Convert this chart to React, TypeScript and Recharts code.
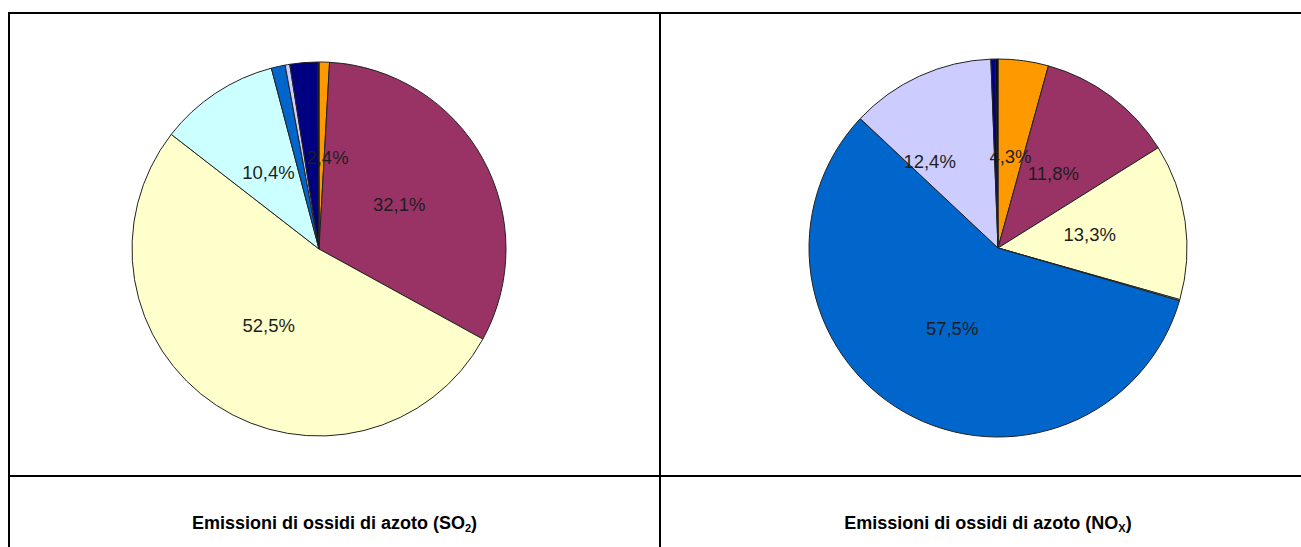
import { PieChart, Pie, Cell } from "recharts";

// Sectors, in clockwise order starting at 12 o'clock
const categories = ["s1", "s2", "s3", "s4", "s5", "s6", "s7", "s8"];
const sliceColors = ["#FF9900", "#993366", "#FFFFCC", "#CCFFFF", "#0066CC", "#CCCCFF", "#000080", "#000000"];

const so2Values = [0.9, 32.1, 52.5, 10.4, 1.2, 0.4, 2.4, 0.1];
const noxValues = [4.3, 11.8, 13.3, 0.1, 57.5, 12.4, 0.4, 0.2];

// which slices get a percentage label
const so2Labelled = [false, true, true, true, false, false, true, false];
const noxLabelled = [true, true, true, false, true, true, false, false];

const so2Caption = ["Emissioni di ossidi di azoto (SO", "2", ")"];
const noxCaption = ["Emissioni di ossidi di azoto (NO", "X", ")"];

// labels moved off their mid-angle to avoid overlaps
const so2Nudge: Record<number, [number, number]> = { 6: [16, 0] };
const noxNudge: Record<number, [number, number]> = { 5: [-30, -2] };

const RADIAN = Math.PI / 180;
const FONT = "'Liberation Sans', Arial, sans-serif";

const formatPct = (v: number) => v.toFixed(1).replace(".", ",") + "%";

function EmissionPie({ values, labelled, nudge, left, top, radius }: any) {
  const size = 400;
  const data = categories.map((name, i) => ({ name, value: values[i] }));

  const renderLabel = (props: any) => {
    const { cx, cy, midAngle, outerRadius, index, value } = props;
    if (!labelled[index]) return null;
    const r = outerRadius * 0.49;
    const [dx, dy] = nudge[index] || [0, 0];
    const x = cx + r * Math.cos(-midAngle * RADIAN) + dx;
    const y = cy + r * Math.sin(-midAngle * RADIAN) + dy;
    return (
      <text x={x} y={y} textAnchor="middle" dominantBaseline="central" fontSize={18.5} fontFamily={FONT} fill="#1e1e1e">
        {formatPct(value)}
      </text>
    );
  };

  return (
    <div style={{ position: "absolute", left, top }}>
      <PieChart width={size} height={size} margin={{ top: 0, right: 0, bottom: 0, left: 0 }}>
        <Pie
          data={data}
          dataKey="value"
          cx={size / 2}
          cy={size / 2}
          outerRadius={radius}
          startAngle={90}
          endAngle={-270}
          stroke="#222"
          strokeWidth={1}
          label={renderLabel}
          labelLine={false}
          isAnimationActive={false}
        >
          {data.map((d, i) => (
            <Cell key={d.name} fill={sliceColors[i]} />
          ))}
        </Pie>
      </PieChart>
    </div>
  );
}

function Caption({ parts, left, width }: { parts: string[]; left: number; width: number }) {
  return (
    <div
      style={{
        position: "absolute",
        left,
        width,
        top: 512,
        textAlign: "center",
        fontFamily: FONT,
        fontWeight: 700,
        fontSize: 18,
        lineHeight: "22px",
        color: "#000",
      }}
    >
      {parts[0]}
      <sub style={{ fontSize: 11, verticalAlign: "-3px" }}>{parts[1]}</sub>
      {parts[2]}
    </div>
  );
}

const line = (left: number, top: number, width: number, height: number) => (
  <div style={{ position: "absolute", left, top, width, height, background: "#000" }} />
);

export default function App() {
  return (
    <div style={{ position: "relative", width: 1301, height: 547, overflow: "hidden", background: "#fff" }}>
      <style>{"body{margin:0;overflow:hidden}"}</style>
      {line(8, 12, 1293, 2)}
      {line(8, 475, 1293, 2)}
      {line(8, 12, 2, 535)}
      {line(659, 12, 2, 535)}

      <EmissionPie values={so2Values} labelled={so2Labelled} nudge={so2Nudge} left={119} top={49} radius={187} />
      <EmissionPie values={noxValues} labelled={noxLabelled} nudge={noxNudge} left={798} top={48} radius={189} />

      <Caption parts={so2Caption} left={10} width={649} />
      <Caption parts={noxCaption} left={661} width={654} />
    </div>
  );
}
